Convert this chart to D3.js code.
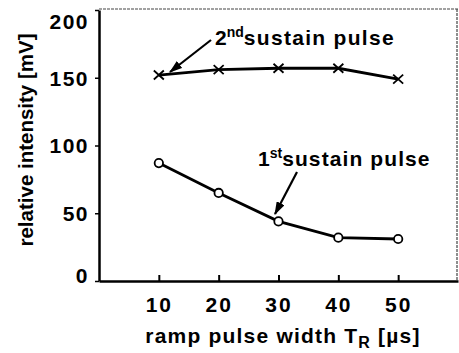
<!DOCTYPE html>
<html>
<head>
<meta charset="utf-8">
<script src="https://cdn.jsdelivr.net/npm/d3@7"></script>
<style>
  body { margin: 0; background: #fff; }
  text { font-family: "Liberation Sans", Arial, sans-serif; font-weight: bold; fill: #000; }
</style>
</head>
<body>
<svg id="chart" width="459" height="353"></svg>
<script>
// data
var pulseWidth = [10, 20, 30, 40, 50];
var secondPulse = [152, 156, 157, 157, 149];
var firstPulse = [87, 65, 44, 32, 31];
var xTicks = [10, 20, 30, 40, 50];
var yTicks = [0, 50, 100, 150, 200];

var svg = d3.select("#chart");
var margin = {top: 10, right: 1, bottom: 72, left: 99};
var width = 459 - margin.left - margin.right,
    height = 353 - margin.top - margin.bottom;

var x = d3.scaleLinear().domain([0, 60]).range([0, width]);
var y = d3.scaleLinear().domain([0, 200]).range([height, 0]);

var g = svg.append("g")
  .attr("transform", "translate(" + margin.left + "," + margin.top + ")");

// thin top and right frame
g.append("line").attr("x1", 0).attr("x2", width).attr("y1", -1).attr("y2", -1)
  .attr("stroke", "#444").attr("stroke-width", 1.2).attr("stroke-dasharray", "3,1");
g.append("line").attr("x1", width - 1).attr("x2", width - 1).attr("y1", -1).attr("y2", height)
  .attr("stroke", "#444").attr("stroke-width", 1.2).attr("stroke-dasharray", "3,1");

// x axis, ticks inward
var xAxis = g.append("g")
  .attr("transform", "translate(0," + height + ")")
  .call(d3.axisBottom(x).tickValues(xTicks).tickSizeInner(-6).tickSizeOuter(0).tickPadding(16));
xAxis.select(".domain").attr("stroke", "#000").attr("stroke-width", 2.5);
xAxis.selectAll(".tick line").attr("stroke-width", 2);
xAxis.selectAll("text").style("font-size", "21px").style("letter-spacing", "2px");

// y axis, ticks outward
var yAxis = g.append("g")
  .call(d3.axisLeft(y).tickValues(yTicks).tickSizeInner(4).tickSizeOuter(0).tickPadding(6));
yAxis.select(".domain").attr("stroke", "#000").attr("stroke-width", 2.5);
yAxis.selectAll(".tick line").attr("stroke-width", 1.5);
yAxis.selectAll("text").style("font-size", "21px").style("letter-spacing", "1.5px")
  .attr("dy", function(d) { return d === 200 ? "0.9em" : d === 0 ? "0.05em" : "0.35em"; });

var line = d3.line()
  .x(function(d, i) { return x(pulseWidth[i]); })
  .y(function(d) { return y(d); });

// 2nd sustain pulse
g.append("path").datum(secondPulse)
  .attr("d", line).attr("fill", "none").attr("stroke", "#000").attr("stroke-width", 2.8);
g.selectAll(".cross").data(secondPulse).enter().append("path")
  .attr("class", "cross")
  .attr("transform", function(d, i) { return "translate(" + x(pulseWidth[i]) + "," + y(d) + ")"; })
  .attr("d", "M-5,-4.5L5,4.5M-5,4.5L5,-4.5")
  .attr("stroke", "#000").attr("stroke-width", 1.8);

// 1st sustain pulse
g.append("path").datum(firstPulse)
  .attr("d", line).attr("fill", "none").attr("stroke", "#000").attr("stroke-width", 2.8);
g.selectAll(".ring").data(firstPulse).enter().append("circle")
  .attr("class", "ring")
  .attr("cx", function(d, i) { return x(pulseWidth[i]); })
  .attr("cy", function(d) { return y(d); })
  .attr("r", 4.2)
  .attr("fill", "#fff").attr("stroke", "#000").attr("stroke-width", 1.8);

// annotations
svg.append("defs").append("marker")
  .attr("id", "head").attr("viewBox", "0 0 12 8").attr("refX", 11).attr("refY", 4)
  .attr("markerWidth", 6).attr("markerHeight", 4).attr("orient", "auto")
  .append("path").attr("d", "M0,0L12,4L0,8z").attr("fill", "#000");

svg.append("line").attr("x1", 211).attr("y1", 40).attr("x2", 170).attr("y2", 72)
  .attr("stroke", "#000").attr("stroke-width", 2.2).attr("marker-end", "url(#head)");
svg.append("line").attr("x1", 297).attr("y1", 172).attr("x2", 275).attr("y2", 214)
  .attr("stroke", "#000").attr("stroke-width", 2.2).attr("marker-end", "url(#head)");

var t2 = svg.append("text").attr("x", 215).attr("y", 45).style("font-size", "21px");
t2.append("tspan").text("2");
t2.append("tspan").text("nd").attr("dy", -8).style("font-size", "14px");
t2.append("tspan").text("sustain pulse").attr("dy", 8).style("letter-spacing", "1.3px");

var t1 = svg.append("text").attr("x", 258).attr("y", 166).style("font-size", "21px");
t1.append("tspan").text("1");
t1.append("tspan").text("st").attr("dy", -8).style("font-size", "14px");
t1.append("tspan").text("sustain pulse").attr("dy", 8).style("letter-spacing", "1.1px");

// axis titles
svg.append("text")
  .attr("transform", "translate(33,140) rotate(-90)")
  .attr("text-anchor", "middle")
  .style("font-size", "20.5px")
  .text("relative intensity [mV]");

var xt = svg.append("text").attr("x", 283).attr("y", 343)
  .attr("text-anchor", "middle").style("font-size", "21px").style("letter-spacing", "1.2px");
xt.append("tspan").text("ramp pulse width T");
xt.append("tspan").text("R").attr("dy", 5).style("font-size", "16px");
xt.append("tspan").text(" [\u00b5s]").attr("dy", -5);
</script>
</body>
</html>
